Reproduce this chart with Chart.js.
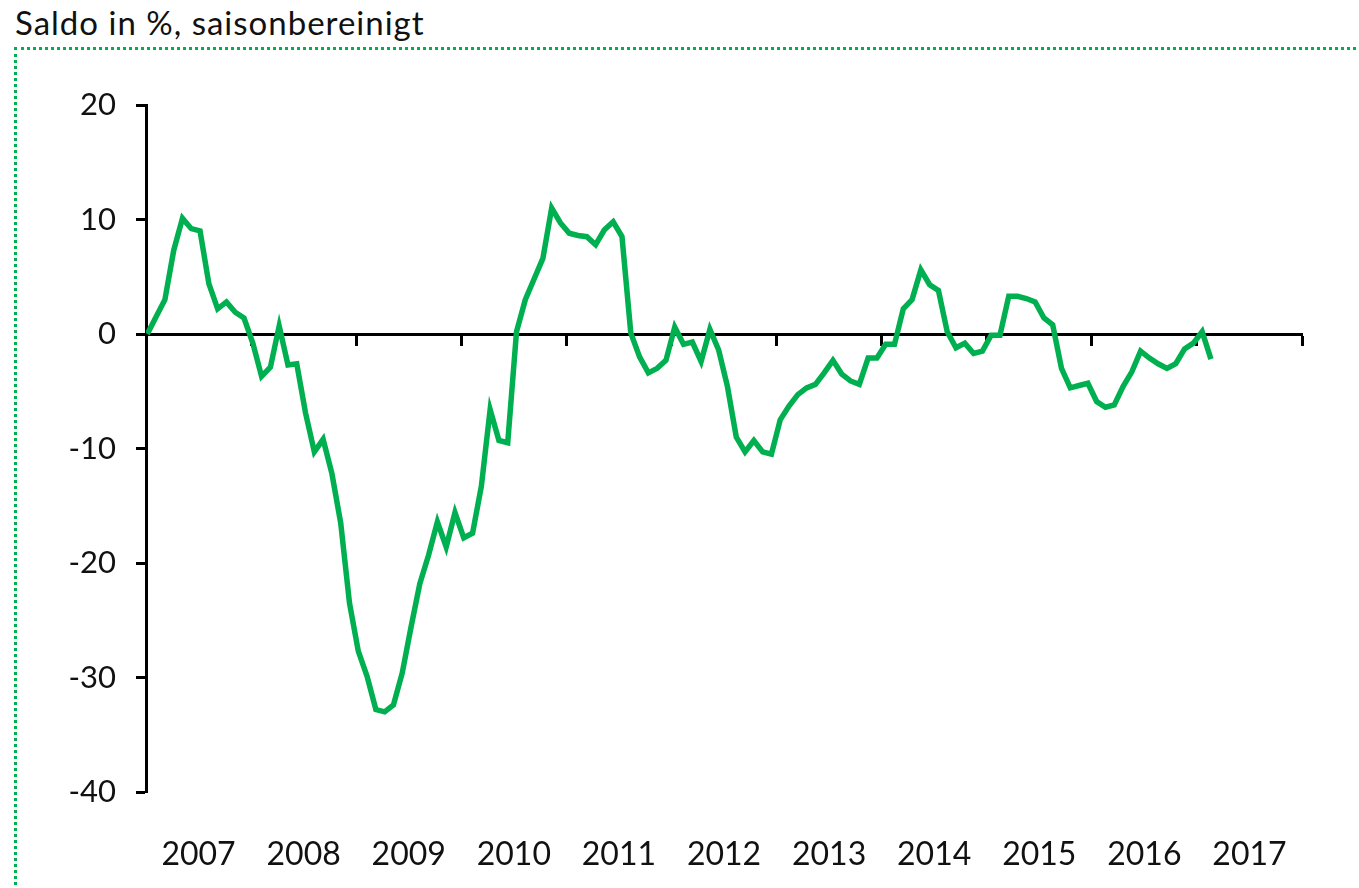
<!DOCTYPE html>
<html>
<head>
<meta charset="utf-8">
<script src="https://cdn.jsdelivr.net/npm/chart.js@4"></script>
<style>
  html, body { margin: 0; padding: 0; background: #fff; }
  body { width: 1359px; height: 888px; position: relative; overflow: hidden; }
  #title {
    position: absolute; left: 15px; top: 2px; letter-spacing: 1px;
    font: 33px Lato, "Liberation Sans", sans-serif; color: #111;
  }
  #frame {
    position: absolute; left: 14px; top: 47px; right: -10px; bottom: -10px;
    border-top: 3px dotted #00b050; border-left: 3px dotted #00b050;
  }
  #wrap { position: absolute; left: 0; top: 0; width: 1359px; height: 888px; }
</style>
</head>
<body>
<div id="title">Saldo in %, saisonbereinigt</div>
<div id="frame"></div>
<div id="wrap"><canvas id="chart" width="1359" height="888"></canvas></div>
<script>
// monthly balance, Jan 2007 onwards
var saldo = [
  0, 1.5, 3.0, 7.3, 10.1, 9.2, 9.0, 4.4, 2.2, 2.8, 1.9, 1.4,
  -0.8, -3.7, -2.9, 0.7, -2.7, -2.6, -6.9, -10.3, -9.2, -12.2, -16.5, -23.5,
  -27.7, -29.9, -32.8, -33.0, -32.4, -29.6, -25.6, -21.8, -19.3, -16.4, -18.6, -15.6,
  -17.8, -17.4, -13.3, -6.6, -9.3, -9.5, 0.2, 3.0, 4.8, 6.6, 11.0, 9.7,
  8.8, 8.6, 8.5, 7.8, 9.1, 9.8, 8.5, 0.1, -2.0, -3.4, -3.0, -2.3,
  0.6, -0.9, -0.7, -2.4, 0.4, -1.4, -4.6, -9.0, -10.3, -9.3, -10.3, -10.5,
  -7.5, -6.3, -5.3, -4.7, -4.4, -3.4, -2.3, -3.5, -4.1, -4.4, -2.1, -2.1,
  -0.9, -0.9, 2.2, 3.0, 5.6, 4.3, 3.8, 0.2, -1.2, -0.8, -1.7, -1.5,
  -0.1, -0.1, 3.3, 3.3, 3.1, 2.8, 1.4, 0.8, -3.0, -4.7, -4.5, -4.3,
  -5.9, -6.4, -6.2, -4.6, -3.3, -1.5, -2.1, -2.6, -3.0, -2.6, -1.3, -0.8,
  0.2, -2.2
];
var years = ["2007", "2008", "2009", "2010", "2011", "2012", "2013", "2014", "2015", "2016", "2017"];
var yTicks = [-40, -30, -20, -10, 0, 10, 20];

var FONT = "Lato, 'Liberation Sans', sans-serif";
var GREEN = "#00b050";
var MONTHS = years.length * 12;

new Chart(document.getElementById("chart"), {
  type: "line",
  data: {
    datasets: [{
      xAxisID: "xd",
      data: saldo.map(function (v, i) { return { x: i, y: v }; }),
      borderColor: GREEN,
      borderWidth: 5.5,
      pointRadius: 0,
      tension: 0,
      borderJoinStyle: "miter",
    }],
  },
  options: {
    responsive: false,
    animation: false,
    layout: { padding: { top: 105, right: 57, left: 0, bottom: 0 } },
    plugins: { legend: { display: false }, tooltip: { enabled: false } },
    scales: {
      y: {
        min: yTicks[0],
        max: yTicks[yTicks.length - 1],
        afterBuildTicks: function (s) { s.ticks = yTicks.map(function (v) { return { value: v }; }); },
        afterFit: function (s) { s.width = 146; },
        ticks: { color: "#111", font: { family: FONT, size: 31 }, padding: 20 },
        grid: { drawOnChartArea: false, drawTicks: true, tickLength: 10, tickWidth: 3, color: "#000" },
        border: { display: true, color: "#000", width: 3 },
      },
      // data axis: points sit slightly wider than the year grid in the original
      xd: {
        type: "linear",
        axis: "x",
        display: false,
        min: -0.15,
        max: 131.36,
      },
      x: {
        type: "linear",
        min: 0,
        max: MONTHS,
        afterBuildTicks: function (s) {
          s.ticks = years.map(function (_, i) { return { value: i * 12 + 6 }; });
        },
        afterFit: function (s) { s.height = 96; },
        ticks: {
          autoSkip: false,
          maxRotation: 0,
          color: "#111",
          font: { family: FONT, size: 32 },
          padding: 43,
          callback: function (v) { return years[Math.round((v - 6) / 12)]; },
        },
        grid: { display: false, drawTicks: false },
        border: { display: false },
      },
      x2: {
        type: "linear",
        axis: "x",
        position: { y: 0 },
        min: 0,
        max: MONTHS,
        afterBuildTicks: function (s) {
          var t = [];
          for (var m = 12; m <= MONTHS; m += 12) t.push({ value: m });
          s.ticks = t;
        },
        ticks: { display: false },
        grid: { drawOnChartArea: false, drawTicks: true, tickLength: 10, tickWidth: 3, color: "#000" },
        border: { display: true, color: "#000", width: 3 },
      },
    },
  },
});
</script>
</body>
</html>
